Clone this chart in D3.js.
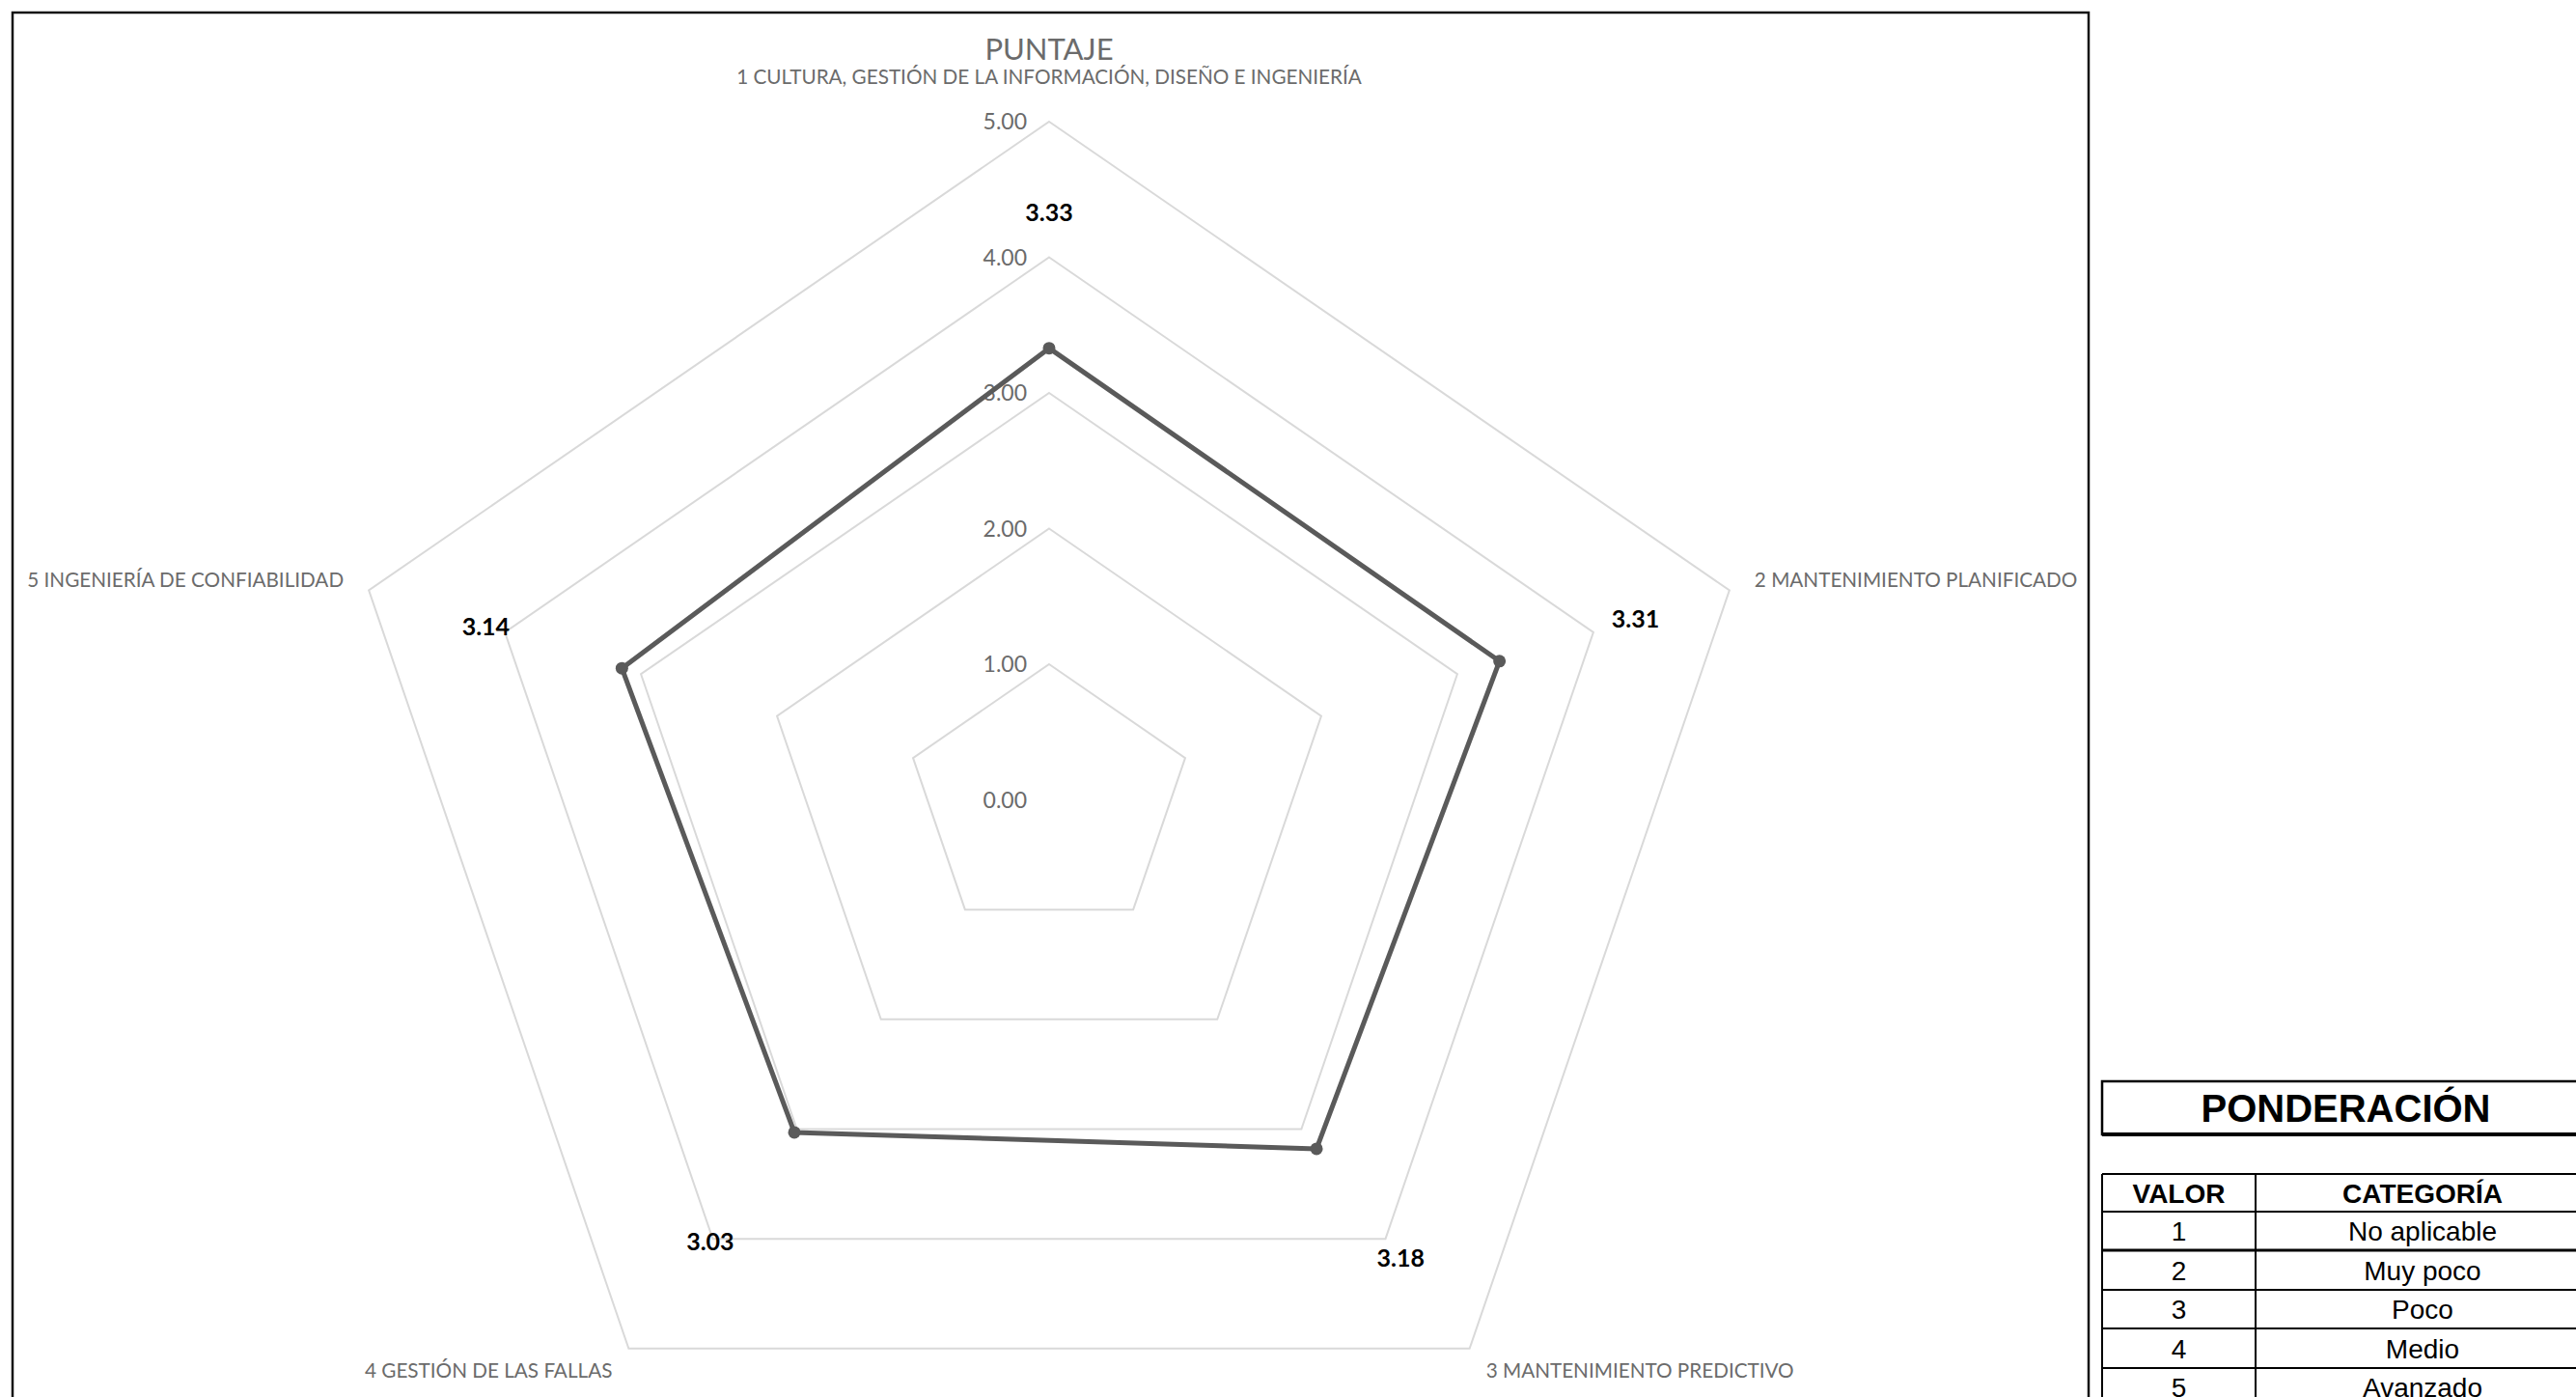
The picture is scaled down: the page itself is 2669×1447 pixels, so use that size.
<!DOCTYPE html>
<html>
<head>
<meta charset="utf-8">
<script src="https://cdn.jsdelivr.net/npm/d3@7"></script>
<style>
  body { margin: 0; background: #fff; }
  svg { display: block; }
</style>
</head>
<body>
<svg id="chart" width="2669" height="1447"></svg>
<script>
// chart values
const categories = [
  "1 CULTURA, GESTIÓN DE LA INFORMACIÓN, DISEÑO E INGENIERÍA",
  "2 MANTENIMIENTO PLANIFICADO",
  "3 MANTENIMIENTO PREDICTIVO",
  "4 GESTIÓN DE LAS FALLAS",
  "5 INGENIERÍA DE CONFIABILIDAD"
];
const scores = [3.33, 3.31, 3.18, 3.03, 3.14];
const ticks = [0, 1, 2, 3, 4, 5];
const chartTitle = "PUNTAJE";

// weighting table
const tableTitle = "PONDERACIÓN";
const tableHeaders = ["VALOR", "CATEGORÍA"];
const tableValues = [1, 2, 3, 4, 5];
const tableCategories = ["No aplicable", "Muy poco", "Poco", "Medio", "Avanzado"];

const svg = d3.select("#chart");
const calibri = "Lato, 'Open Sans', sans-serif";
const arial = "'Liberation Sans', Arial, sans-serif";

// outer chart frame
svg.append("rect")
  .attr("x", 13).attr("y", 13)
  .attr("width", 2151).attr("height", 1500)
  .attr("fill", "none").attr("stroke", "#111").attr("stroke-width", 2.5);

// radar geometry (chart is a bit wider than tall)
const cx = 1087, cy = 828.5;
const ry = d3.scaleLinear().domain([0, 5]).range([0, 702.5]);
const rx = d3.scaleLinear().domain([0, 5]).range([0, 702.5 * 1.055]);
const angle = d3.scalePoint().domain(d3.range(categories.length + 1)).range([0, 2 * Math.PI]);

const pt = (i, v) => {
  const a = angle(i);
  return [cx + rx(v) * Math.sin(a), cy - ry(v) * Math.cos(a)];
};

const g = svg.append("g");

// grid pentagons
g.selectAll(".grid")
  .data(ticks.filter(t => t > 0))
  .enter().append("path")
  .attr("class", "grid")
  .attr("d", t => d3.line()(categories.map((c, i) => pt(i, t))) + "Z")
  .attr("fill", "none")
  .attr("stroke", "#d9d9d9")
  .attr("stroke-width", 2);

// tick labels
g.selectAll(".tick")
  .data(ticks)
  .enter().append("text")
  .attr("class", "tick")
  .attr("x", cx - 23)
  .attr("y", t => cy - ry(t))
  .attr("dy", "0.35em")
  .attr("text-anchor", "end")
  .style("font-family", calibri)
  .style("font-size", "23px")
  .style("fill", "#6b6b6b")
  .text(t => d3.format(".2f")(t));

// data line
g.append("path")
  .attr("d", d3.line()(scores.map((v, i) => pt(i, v))) + "Z")
  .attr("fill", "none")
  .attr("stroke", "#5a5a5a")
  .attr("stroke-width", 5)
  .attr("stroke-linejoin", "round");

g.selectAll(".marker")
  .data(scores)
  .enter().append("circle")
  .attr("class", "marker")
  .attr("cx", (v, i) => pt(i, v)[0])
  .attr("cy", (v, i) => pt(i, v)[1])
  .attr("r", 6.5)
  .attr("fill", "#5a5a5a");

// value labels, pushed one unit past each point
g.selectAll(".value")
  .data(scores)
  .enter().append("text")
  .attr("class", "value")
  .attr("x", (v, i) => pt(i, v + 1)[0])
  .attr("y", (v, i) => pt(i, v + 1)[1])
  .attr("dy", "0.35em")
  .attr("text-anchor", "middle")
  .style("font-family", calibri)
  .style("font-size", "25px")
  .style("font-weight", "bold")
  .style("fill", "#000")
  .text(v => d3.format(".2f")(v));

// category labels around the outer pentagon
const labelPlace = [
  { dx: 0, dy: -46, anchor: "middle" },
  { dx: 26, dy: -11, anchor: "start" },
  { dx: 17, dy: 23, anchor: "start" },
  { dx: -17, dy: 23, anchor: "end" },
  { dx: -26, dy: -11, anchor: "end" }
];
g.selectAll(".cat")
  .data(categories)
  .enter().append("text")
  .attr("class", "cat")
  .attr("x", (c, i) => pt(i, 5)[0] + labelPlace[i].dx)
  .attr("y", (c, i) => pt(i, 5)[1] + labelPlace[i].dy)
  .attr("dy", "0.35em")
  .attr("text-anchor", (c, i) => labelPlace[i].anchor)
  .style("font-family", calibri)
  .style("font-size", "20.7px")
  .style("fill", "#6b6b6b")
  .text(c => c);

// title
svg.append("text")
  .attr("x", cx).attr("y", 51)
  .attr("dy", "0.35em")
  .attr("text-anchor", "middle")
  .style("font-family", calibri)
  .style("font-size", "31px")
  .style("fill", "#6b6b6b")
  .text(chartTitle);

// ---- weighting table on the right ----
const tx0 = 2178, tx1 = 2683, tDiv = 2337;
const tbl = svg.append("g");

tbl.append("rect")
  .attr("x", tx0).attr("y", 1120)
  .attr("width", tx1 - tx0).attr("height", 55)
  .attr("fill", "none").attr("stroke", "#000").attr("stroke-width", 2.5);
tbl.append("line")
  .attr("x1", tx0).attr("x2", tx1).attr("y1", 1175).attr("y2", 1175)
  .attr("stroke", "#000").attr("stroke-width", 4);
tbl.append("text")
  .attr("x", (tx0 + tx1) / 2).attr("y", 1148)
  .attr("dy", "0.36em")
  .attr("text-anchor", "middle")
  .style("font-family", arial)
  .style("font-size", "40px")
  .style("font-weight", "bold")
  .text(tableTitle);

const rowEdges = [1216, 1255, 1295, 1336, 1376, 1417, 1457];
const rowY = d3.scaleOrdinal().domain(d3.range(rowEdges.length)).range(rowEdges);

tbl.selectAll(".hline")
  .data(rowEdges)
  .enter().append("line")
  .attr("class", "hline")
  .attr("x1", tx0).attr("x2", tx1)
  .attr("y1", d => d).attr("y2", d => d)
  .attr("stroke", "#000")
  .attr("stroke-width", (d, i) => i === 2 ? 3 : 2);

[tx0, tDiv, tx1].forEach(x => {
  tbl.append("line")
    .attr("x1", x).attr("x2", x)
    .attr("y1", rowEdges[0]).attr("y2", rowEdges[rowEdges.length - 1])
    .attr("stroke", "#000").attr("stroke-width", 2);
});

const colMid = [(tx0 + tDiv) / 2, (tDiv + tx1) / 2];
tbl.selectAll(".head")
  .data(tableHeaders)
  .enter().append("text")
  .attr("class", "head")
  .attr("x", (d, i) => colMid[i])
  .attr("y", (rowY(0) + rowY(1)) / 2)
  .attr("dy", "0.36em")
  .attr("text-anchor", "middle")
  .style("font-family", arial)
  .style("font-size", "28px")
  .style("font-weight", "bold")
  .text(d => d);

const rows = tableValues.map((v, i) => ({ v, c: tableCategories[i], i }));
const rowG = tbl.selectAll(".row")
  .data(rows)
  .enter().append("g")
  .attr("class", "row");
rowG.append("text")
  .attr("x", colMid[0])
  .attr("y", d => (rowY(d.i + 1) + rowY(d.i + 2)) / 2)
  .attr("dy", "0.36em")
  .attr("text-anchor", "middle")
  .style("font-family", arial)
  .style("font-size", "28px")
  .text(d => d.v);
rowG.append("text")
  .attr("x", colMid[1])
  .attr("y", d => (rowY(d.i + 1) + rowY(d.i + 2)) / 2)
  .attr("dy", "0.36em")
  .attr("text-anchor", "middle")
  .style("font-family", arial)
  .style("font-size", "28px")
  .text(d => d.c);
</script>
</body>
</html>
